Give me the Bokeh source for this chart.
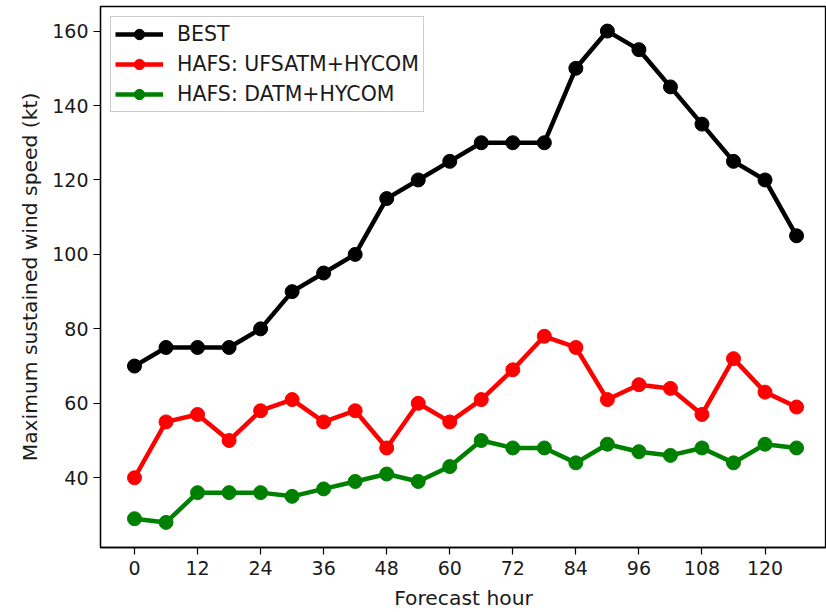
from bokeh.plotting import figure
from bokeh.models import Range1d, FixedTicker, Legend, LegendItem
from bokeh.embed import file_html
from bokeh.resources import INLINE

hours = [0, 6, 12, 18, 24, 30, 36, 42, 48, 54, 60, 66, 72, 78, 84, 90, 96, 102, 108, 114, 120, 126]
best = [70, 75, 75, 75, 80, 90, 95, 100, 115, 120, 125, 130, 130, 130, 150, 160, 155, 145, 135, 125, 120, 105]
ufsatm = [40, 55, 57, 50, 58, 61, 55, 58, 48, 60, 55, 61, 69, 78, 75, 61, 65, 64, 57, 72, 63, 59]
datm = [29, 28, 36, 36, 36, 35, 37, 39, 41, 39, 43, 50, 48, 48, 44, 49, 47, 46, 48, 44, 49, 48]
x_ticks = [0, 12, 24, 36, 48, 60, 72, 84, 96, 108, 120]
y_ticks = [40, 60, 80, 100, 120, 140, 160]

FONT = "DejaVu Sans"
TXT = "#1a1a1a"

p = figure(width=826, height=612, output_backend="svg", toolbar_location=None,
           x_range=Range1d(-6.47, 131.7), y_range=Range1d(21.26, 166.6),
           min_border_left=100, min_border_right=0, min_border_top=6, min_border_bottom=63)
p.grid.visible = False
p.outline_line_color = "black"
p.outline_line_width = 1.3
p.background_fill_color = "white"
p.border_fill_color = "white"

for ax in (p.xaxis[0], p.yaxis[0]):
    ax.major_label_text_font = FONT
    ax.major_label_text_font_size = "19px"
    ax.major_label_text_color = TXT
    ax.axis_label_text_font = FONT
    ax.axis_label_text_font_size = "20.3px"
    ax.axis_label_text_font_style = "normal"
    ax.axis_label_text_color = TXT
    ax.minor_tick_line_color = None
    ax.major_tick_in = 0
    ax.major_tick_out = 7
    ax.axis_line_color = "black"
    ax.axis_line_width = 1.3
    ax.major_tick_line_width = 1.2

p.xaxis.ticker = FixedTicker(ticks=x_ticks)
p.yaxis.ticker = FixedTicker(ticks=y_ticks)
p.xaxis.axis_label = "Forecast hour"
p.yaxis.axis_label = "Maximum sustained wind speed (kt)"
p.xaxis.major_label_standoff = 6
p.yaxis.major_label_standoff = 5
p.xaxis.axis_label_standoff = 8
p.yaxis.axis_label_standoff = 7

items = []
for name, vals, col in [("BEST", best, "black"),
                        ("HAFS: UFSATM+HYCOM", ufsatm, "red"),
                        ("HAFS: DATM+HYCOM", datm, "green")]:
    l = p.line(hours, vals, line_color=col, line_width=4.5)
    c = p.scatter(hours, vals, size=14, fill_color=col, line_color=col)
    items.append(LegendItem(label=name, renderers=[l, c]))

legend = Legend(items=items, location="top_left")
legend.label_text_font = FONT
legend.label_text_font_size = "20.5px"
legend.label_text_color = TXT
legend.glyph_width = 48
legend.glyph_height = 26
legend.label_height = 26
legend.label_standoff = 14
legend.spacing = 4
legend.padding = 4
legend.margin = 10
legend.border_line_color = "#cccccc"
legend.border_line_width = 1
legend.border_line_alpha = 1
legend.background_fill_alpha = 0.85
p.add_layout(legend)

open("out.html", "w").write(file_html(p, INLINE))
